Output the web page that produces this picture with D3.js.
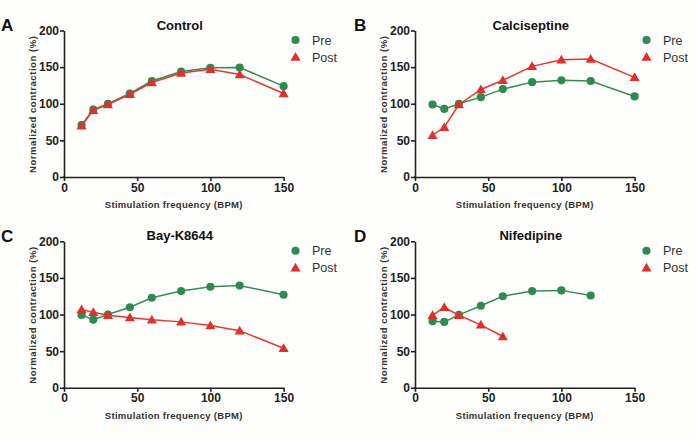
<!DOCTYPE html>
<html>
<head>
<meta charset="utf-8">
<script src="https://cdn.jsdelivr.net/npm/d3@7"></script>
<style>
  html, body { margin: 0; padding: 0; background: #fefefc; }
  svg { display: block; }
  text { font-family: "Liberation Sans", Arial, sans-serif; }
</style>
</head>
<body>
<svg id="chart" width="697" height="442"></svg>
<script>
// ---- data ----
const frequencies = [12, 20, 30, 45, 60, 80, 100, 120, 150];
const panelLetters = ["A", "B", "C", "D"];
const panelTitles = ["Control", "Calciseptine", "Bay-K8644", "Nifedipine"];
const seriesNames = ["Pre", "Post"];

const controlPre  = [71, 92, 100, 114, 131, 144, 149, 149.5, 124];
const controlPost = [70, 91, 99, 113, 129, 142, 147, 140, 114];

const calciPre  = [99, 93, 100, 109, 120, 129.5, 132, 131, 110];
const calciPost = [57, 68, 99, 119.5, 132, 151, 160, 161, 136];

const bayPre  = [99.5, 93, 100, 110, 123, 132, 138, 139.5, 127];
const bayPost = [107, 103, 99, 96, 93, 90, 85, 78, 54];

const nifePre  = [91, 90, 99.5, 112, 125, 132, 133, 126];
const nifePost = [99, 110, 99, 86, 70];

const xTicks = [0, 50, 100, 150];
const yTicks = [0, 50, 100, 150, 200];
const xLabel = "Stimulation frequency (BPM)";
const yLabel = "Normalized contraction (%)";

const panelData = [
  [controlPre, controlPost],
  [calciPre, calciPost],
  [bayPre, bayPost],
  [nifePre, nifePost]
];

// ---- layout ----
const colors = { Pre: "#2e8b4e", Post: "#e0302b" };
const lineColors = { Pre: "#3a8a55", Post: "#e03a33" };
const axisColor = "#222";
const origins = [
  { left: 64, top: 30.5 },
  { left: 415, top: 30.5 },
  { left: 64, top: 241.3 },
  { left: 415, top: 241.3 }
];
const plotW = 219.6, plotH = 146.5;

const svg = d3.select("#chart");

panelData.forEach((series, i) => {
  const o = origins[i];
  const g = svg.append("g").attr("transform", `translate(${o.left},${o.top})`);
  const x = d3.scaleLinear().domain([0, 150]).range([0, plotW]);
  const y = d3.scaleLinear().domain([0, 200]).range([plotH, 0]);

  // axes
  const yAxis = d3.axisLeft(y).tickValues(yTicks).tickSize(4).tickPadding(1).tickSizeOuter(0);
  const xAxis = d3.axisBottom(x).tickValues(xTicks).tickSize(4).tickPadding(2).tickSizeOuter(0);

  const ya = g.append("g").call(yAxis);
  const xa = g.append("g").attr("transform", `translate(0,${plotH})`).call(xAxis);
  [ya, xa].forEach(a => {
    a.select(".domain").attr("stroke", axisColor).attr("stroke-width", 1.6);
    a.selectAll(".tick line").attr("stroke", axisColor).attr("stroke-width", 1.6);
    a.selectAll(".tick text")
      .attr("fill", "#222")
      .style("font-size", "12px")
      .style("font-weight", "bold");
  });
  g.append("line").attr("x1", -0.8).attr("x2", 0.8).attr("y1", plotH).attr("y2", plotH)
    .attr("stroke", axisColor).attr("stroke-width", 1.6);

  // axis titles
  g.append("text")
    .attr("x", plotW / 2)
    .attr("y", plotH + 31)
    .attr("text-anchor", "middle")
    .style("font-size", "9.5px")
    .style("font-weight", "bold")
    .style("letter-spacing", "0.3px")
    .attr("fill", "#333")
    .text(xLabel);
  g.append("text")
    .attr("transform", `translate(-28.5,${plotH / 2 + 0.5}) rotate(-90)`)
    .attr("text-anchor", "middle")
    .style("font-size", "9.5px")
    .style("font-weight", "bold")
    .style("letter-spacing", "0.55px")
    .attr("fill", "#333")
    .text(yLabel);

  // panel title
  g.append("text")
    .attr("x", plotW / 2 + 6)
    .attr("y", -1)
    .attr("text-anchor", "middle")
    .style("font-size", "13px")
    .style("font-weight", "bold")
    .attr("fill", "#111")
    .text(panelTitles[i]);

  // panel letter
  g.append("text")
    .attr("x", i % 2 === 0 ? -63 : -61)
    .attr("y", 0.5)
    .style("font-size", "17px")
    .style("font-weight", "bold")
    .attr("fill", "#111")
    .text(panelLetters[i]);

  // series
  series.forEach((vals, s) => {
    const name = seriesNames[s];
    const pts = vals.map((v, k) => [frequencies[k], v]);
    g.append("path")
      .datum(pts)
      .attr("fill", "none")
      .attr("stroke", lineColors[name])
      .attr("stroke-width", 1.5)
      .attr("d", d3.line().x(d => x(d[0])).y(d => y(d[1])));
    const sym = d3.symbol().type(name === "Pre" ? d3.symbolCircle : d3.symbolTriangle)
      .size(name === "Pre" ? 52 : 44);
    g.selectAll(null)
      .data(pts)
      .enter()
      .append("path")
      .attr("transform", d => `translate(${x(d[0])},${y(d[1]) + (name === "Post" ? 0.8 : 0)})`)
      .attr("d", sym)
      .attr("fill", colors[name]);
  });

  // legend
  seriesNames.forEach((name, s) => {
    const ly = 9.5 + s * 17;
    const sym = d3.symbol().type(name === "Pre" ? d3.symbolCircle : d3.symbolTriangle)
      .size(name === "Pre" ? 52 : 44);
    g.append("path")
      .attr("transform", `translate(${231.5},${ly + (name === "Post" ? 0.8 : 0)})`)
      .attr("d", sym)
      .attr("fill", colors[name]);
    g.append("text")
      .attr("x", 248)
      .attr("y", ly + 4.5)
      .style("font-size", "12.5px")
      .attr("fill", "#333")
      .text(name);
  });
});
</script>
</body>
</html>
